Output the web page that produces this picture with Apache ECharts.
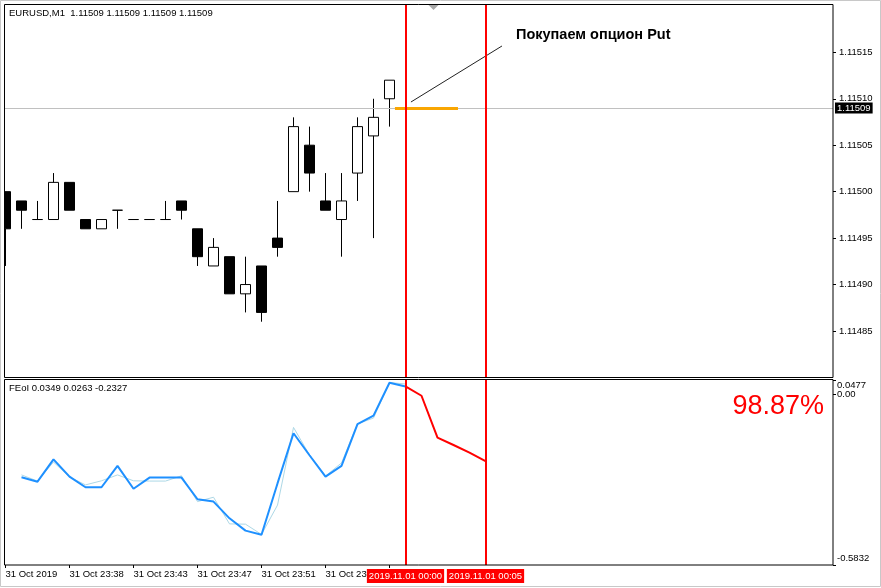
<!DOCTYPE html>
<html><head><meta charset="utf-8">
<script src="https://cdn.jsdelivr.net/npm/echarts@6/dist/echarts.min.js"></script>
<style>html,body{margin:0;padding:0;background:#fff}#c{width:881px;height:588px}</style>
</head><body><div id="c"></div>
<script>
// ---------- data ----------
const chartTitle = 'EURUSD,M1  1.11509 1.11509 1.11509 1.11509';
const indicatorTitle = 'FEoI 0.0349 0.0263 -0.2327';
const annotationText = 'Покупаем опцион Put';
const probabilityText = '98.87%';

const candleIdx = [0,1,2,3,4,5,6,7,8,9,10,11,12,13,14,15,16,17,18,19,20,21,22,23,24];
const opens  = [1.11500,1.11499,1.11497,1.11497,1.11501,1.11497,1.11496,1.11498,1.11497,1.11497,1.11497,1.11499,1.11496,1.11492,1.11493,1.11489,1.11492,1.11495,1.11500,1.11505,1.11499,1.11497,1.11502,1.11506,1.11510];
const closes = [1.11496,1.11498,1.11497,1.11501,1.11498,1.11496,1.11497,1.11498,1.11497,1.11497,1.11497,1.11498,1.11493,1.11494,1.11489,1.11490,1.11487,1.11494,1.11507,1.11502,1.11498,1.11499,1.11507,1.11508,1.11512];
const lows   = [1.11492,1.11496,1.11497,1.11497,1.11498,1.11496,1.11496,1.11496,1.11497,1.11497,1.11497,1.11497,1.11492,1.11492,1.11489,1.11487,1.11486,1.11493,1.11500,1.11500,1.11498,1.11493,1.11499,1.11495,1.11507];
const highs  = [1.11500,1.11499,1.11499,1.11502,1.11501,1.11497,1.11497,1.11498,1.11497,1.11497,1.11499,1.11499,1.11496,1.11495,1.11493,1.11493,1.11492,1.11499,1.11508,1.11507,1.11502,1.11502,1.11508,1.11510,1.11512];

const bidPrice = 1.11509;
const bidLabel = '1.11509';
const priceTicks = [1.11485,1.11490,1.11495,1.11500,1.11505,1.11510,1.11515];
const priceMin = 1.1147994, priceMax = 1.115202;

// trade marks (index / price)
const orangeSeg = [[24.34, 1.11509],[28.28, 1.11509]];
const pointerSeg = [[25.34, 1.1150965],[31.03, 1.1151568]];

const feoiIdx     = [1,2,3,4,5,6,7,8,9,10,11,12,13,14,15,16,17,18,19,20,21,22,23,24,25];
const feoiMain    = [-0.284,-0.299,-0.223,-0.282,-0.318,-0.318,-0.245,-0.323,-0.285,-0.285,-0.285,-0.359,-0.367,-0.424,-0.466,-0.480,-0.305,-0.134,-0.209,-0.282,-0.245,-0.103,-0.074,0.0385,0.0256];
const feoiSignal  = [-0.276,-0.297,-0.232,-0.283,-0.310,-0.296,-0.276,-0.296,-0.297,-0.297,-0.279,-0.367,-0.352,-0.443,-0.444,-0.479,-0.379,-0.114,-0.208,-0.280,-0.235,-0.102,-0.082,0.039,0.034];
const forecastIdx = [25,26,27,28,29,30];
const forecastVal = [0.0256,-0.006,-0.149,-0.174,-0.200,-0.229];
const feoiMax = 0.0477, feoiMin = -0.5832;
const feoiTicks = [0, -0.5832];
const feoiTickText = ['0.00','-0.5832'];
const feoiTopTick = [0.0477];
const feoiTopText = ['0.0477'];

const timeTickIdx  = [0,4,8,12,16,20,24];
const timeLabelIdx = [0,4,8,12,16,20];
const timeLabels   = ['31 Oct 2019','31 Oct 23:38','31 Oct 23:43','31 Oct 23:47','31 Oct 23:51','31 Oct 23:55'];
const expiryIdx    = [25,30];
const expiryLabels = ['2019.11.01 00:00','2019.11.01 00:05'];

// ---------- chart ----------
const FONT = 'Liberation Sans';
const xMin = -0.03125, xMax = 51.71875;
const candles = candleIdx.map((k,i)=>[k, opens[i], closes[i], lows[i], highs[i]]);
const pairs = (xs, ys)=>xs.map((x,i)=>[x, ys[i]]);

const chart = echarts.init(document.getElementById('c'));
const baseLabel = {color:'#000', fontFamily: FONT, fontSize: 9.5};
const noLine = {show:false, onZero:false};
const richBase = {fontSize:9.5, fontFamily:FONT, color:'#000'};

chart.setOption({
  animation: false,
  backgroundColor: '#fff',
  grid: [
    {left: 5, top: 4, width: 828, height: 374},
    {left: 5, top: 380, width: 828, height: 185}
  ],
  xAxis: [
    {type:'value', gridIndex:0, min:xMin, max:xMax, show:false, axisLine:noLine},
    {type:'value', gridIndex:1, min:xMin, max:xMax, position:'bottom',
      axisLine:noLine, splitLine:{show:false},
      axisTick:{show:true, length:3, lineStyle:{color:'#000'}, customValues: timeTickIdx},
      axisLabel:Object.assign({}, baseLabel, {customValues: timeLabelIdx, align:'left', margin:4, lineHeight:11,
        showMinLabel:true,
        formatter: v => { const i = timeLabelIdx.indexOf(Math.round(v)); return i>=0 ? timeLabels[i] : ''; }})
    },
    {type:'value', gridIndex:1, min:xMin, max:xMax, position:'bottom', z: 5,
      axisLine:noLine, splitLine:{show:false}, axisTick:{show:false},
      axisLabel:Object.assign({}, baseLabel, {customValues: expiryIdx, align:'center', margin:4,
        color:'#fff', backgroundColor:'#ff0000', padding:[2,2,1,2], lineHeight:11,
        formatter: v => { const i = expiryIdx.indexOf(Math.round(v)); return i>=0 ? expiryLabels[i] : ''; }})
    }
  ],
  yAxis: [
    {type:'value', gridIndex:0, position:'right', min:priceMin, max:priceMax, scale:true,
      axisLine:noLine, splitLine:{show:false},
      axisTick:{show:true, length:3, lineStyle:{color:'#000'}, customValues: priceTicks},
      axisLabel:Object.assign({}, baseLabel, {customValues: priceTicks, margin:6, formatter: v => v.toFixed(5)})
    },
    {type:'value', gridIndex:1, position:'right', min:feoiMin, max:feoiMax,
      axisLine:noLine, splitLine:{show:false},
      axisTick:{show:true, length:3, lineStyle:{color:'#000'}, customValues: feoiTicks},
      axisLabel:Object.assign({}, baseLabel, {customValues: feoiTicks, margin:4, showMinLabel:true, showMaxLabel:true,
        formatter: v => {
          const i = feoiTicks.findIndex(t => Math.abs(t - v) < 1e-6);
          if (i === 1) return '{b|' + feoiTickText[1] + '}';
          return i >= 0 ? feoiTickText[i] : '';
        },
        rich: { b: Object.assign({padding:[0,0,14,0], lineHeight:10}, richBase) }
      })
    },
    {type:'value', gridIndex:1, position:'right', min:feoiMin, max:feoiMax,
      axisLine:noLine, splitLine:{show:false},
      axisTick:{show:true, length:3, lineStyle:{color:'#000'}, customValues: feoiTopTick},
      axisLabel:Object.assign({}, baseLabel, {customValues: feoiTopTick, margin:4, showMaxLabel:true, verticalAlign:'top',
        formatter: v => feoiTopText[0]})
    }
  ],
  series: [
    {
      type:'candlestick', xAxisIndex:0, yAxisIndex:0, data: candles, barWidth: 10, clip:false,
      itemStyle:{color:'#fff', color0:'#000', borderColor:'#000', borderColor0:'#000', borderColorDoji:'#000', borderWidth:1},
      emphasis:{disabled:true},
      markLine:{
        silent:true, symbol:['none','none'], animation:false, precision: 6, label:{show:false}, z: 3,
        data:[
          {yAxis: bidPrice, lineStyle:{color:'#c0c0c0', width:1, type:'solid'},
           label:{show:true, position:'end', distance:2, formatter: bidLabel, color:'#fff', backgroundColor:'#000',
                  fontFamily:FONT, fontSize:9.5, padding:[1,2,0,2], lineHeight:10}},
          [{coord: orangeSeg[0], lineStyle:{color:'#f9a602', width:3, type:'solid'}}, {coord: orangeSeg[1]}],
          [{coord: pointerSeg[0], lineStyle:{color:'#222', width:1, type:'solid'}}, {coord: pointerSeg[1]}],
          {xAxis: expiryIdx[0], lineStyle:{color:'#ff0000', width:2, type:'solid'}},
          {xAxis: expiryIdx[1], lineStyle:{color:'#ff0000', width:2, type:'solid'}}
        ]
      }
    },
    {type:'line', xAxisIndex:1, yAxisIndex:1, data: pairs(feoiIdx, feoiSignal), showSymbol:false, symbol:'none',
      lineStyle:{color:'#add8e6', width:1}, silent:true},
    {type:'line', xAxisIndex:1, yAxisIndex:1, data: pairs(feoiIdx, feoiMain), showSymbol:false, symbol:'none',
      lineStyle:{color:'#1e90ff', width:2}, silent:true},
    {type:'line', xAxisIndex:1, yAxisIndex:1, data: pairs(forecastIdx, forecastVal), showSymbol:false, symbol:'none',
      lineStyle:{color:'#ff0000', width:2}, silent:true, z: 3,
      markLine:{silent:true, symbol:['none','none'], label:{show:false}, precision: 6,
        data:[{xAxis: expiryIdx[0]}, {xAxis: expiryIdx[1]}],
        lineStyle:{color:'#ff0000', width:2, type:'solid'}}
    }
  ],
  graphic: [
    {type:'rect', shape:{x:0, y:4, width:4.5, height:375}, style:{fill:'#fff'}, z:9, silent:true},
    {type:'rect', shape:{x:0.5, y:0.5, width:880, height:586}, style:{fill:'none', stroke:'#c8c8c8', lineWidth:1}, z:10, silent:true},
    {type:'rect', shape:{x:4.5, y:4.5, width:828.5, height:373}, style:{fill:'none', stroke:'#000', lineWidth:1}, z:10, silent:true},
    {type:'rect', shape:{x:4.5, y:379.5, width:828.5, height:185.5}, style:{fill:'none', stroke:'#000', lineWidth:1}, z:10, silent:true},
    {type:'polygon', shape:{points:[[428.5,5],[438.5,5],[433.5,10]]}, style:{fill:'#a8a8a8'}, z:10, silent:true},
    {type:'text', x:9, y:13, style:{text: chartTitle, fill:'#000', font:'9.5px "Liberation Sans"', textVerticalAlign:'middle'}, z:11, silent:true},
    {type:'text', x:9, y:388, style:{text: indicatorTitle, fill:'#000', font:'9.5px "Liberation Sans"', textVerticalAlign:'middle'}, z:11, silent:true},
    {type:'text', x:516, y:35, style:{text: annotationText, fill:'#000', font:'bold 14.5px "Liberation Sans"', textVerticalAlign:'middle'}, z:11, silent:true},
    {type:'text', x:824, y:407, style:{text: probabilityText, fill:'#ff0000', font:'27px "Liberation Sans"', textAlign:'right', textVerticalAlign:'middle'}, z:11, silent:true}
  ]
});
</script></body></html>
